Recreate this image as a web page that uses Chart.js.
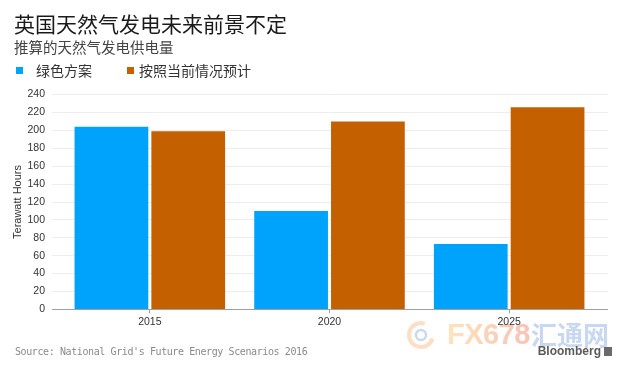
<!DOCTYPE html>
<html>
<head>
<meta charset="utf-8">
<script src="https://cdn.jsdelivr.net/npm/chart.js@4.4.1/dist/chart.umd.min.js"></script>
<style>
  html, body { margin: 0; padding: 0; background: #fff; }
</style>
</head>
<body>
<canvas id="myChart" width="630" height="374"></canvas>
<script>
// data
const years = ['2015', '2020', '2025'];
const greenScenario = [204, 110, 73];
const currentTrend = [199, 210, 226];
const seriesNames = ['绿色方案', '按照当前情况预计'];
const seriesColors = ['#00a3fb', '#c46000'];
const yMin = 0;
const yMax = 240;
const yStep = 20;

const chartTitle = '英国天然气发电未来前景不定';
const chartSubtitle = '推算的天然气发电供电量';
const yAxisTitle = 'Terawatt Hours';
const sourceNote = "Source: National Grid's Future Energy Scenarios 2016";
const brandName = 'Bloomberg';

const cjk = '"Noto Sans CJK SC", "Noto Sans", sans-serif';
const latin = '"Liberation Sans", Arial, sans-serif';

const gridColor = ctx => (ctx.tick && ctx.tick.value === 0 ? '#a0a0a0' : '#ededed');

// legend, source line and logos drawn around the chart
const extras = {
  id: 'extras',
  beforeDraw(chart) {
    const ctx = chart.ctx;
    ctx.save();
    // faded FX678 logo in the lower right
    ctx.lineWidth = 4;
    ctx.strokeStyle = 'rgba(250, 190, 140, 0.5)';
    ctx.beginPath();
    ctx.arc(421, 335, 12, 0.3, Math.PI * 1.6);
    ctx.stroke();
    ctx.strokeStyle = 'rgba(150, 180, 225, 0.5)';
    ctx.lineWidth = 2.5;
    ctx.beginPath();
    ctx.arc(421, 335, 5, 0, Math.PI * 2);
    ctx.stroke();
    const g = ctx.createLinearGradient(448, 0, 526, 0);
    g.addColorStop(0, 'rgba(253, 215, 160, 0.7)');
    g.addColorStop(1, 'rgba(248, 170, 150, 0.7)');
    ctx.fillStyle = g;
    ctx.font = 'bold 29px ' + latin;
    ctx.textBaseline = 'middle';
    ctx.letterSpacing = '-0.5px';
    ctx.fillText('FX678', 447, 336);
    ctx.letterSpacing = '0px';
    ctx.fillStyle = 'rgba(170, 195, 232, 0.65)';
    ctx.font = 'bold 26px ' + cjk;
    ctx.fillText('汇通网', 531, 335);
    ctx.restore();
  },
  afterDraw(chart) {
    const ctx = chart.ctx;
    ctx.save();
    ctx.textBaseline = 'middle';
    // legend
    const boxes = [16, 127];
    const texts = [36, 139];
    chart.data.datasets.forEach((ds, i) => {
      ctx.fillStyle = ds.backgroundColor;
      ctx.fillRect(boxes[i], 67, 7, 7);
      ctx.fillStyle = '#333';
      ctx.font = '14px ' + cjk;
      ctx.fillText(ds.label, texts[i], 70.5);
    });
    // source line
    ctx.fillStyle = '#8a8a8a';
    ctx.font = '10px "DejaVu Sans Mono", monospace';
    ctx.letterSpacing = '-0.4px';
    ctx.fillText(sourceNote, 15, 352);
    ctx.letterSpacing = '0px';
    // brand
    ctx.fillStyle = '#5a5a5a';
    ctx.font = 'bold 12px ' + latin;
    ctx.textAlign = 'right';
    ctx.fillText(brandName, 601, 352);
    ctx.fillStyle = '#6a6a6a';
    ctx.fillRect(604, 347, 8, 9);
    ctx.restore();
  }
};

const ctx = document.getElementById('myChart').getContext('2d');
const myChart = new Chart(ctx, {
  type: 'bar',
  data: {
    labels: years,
    datasets: [
      { label: seriesNames[0], data: greenScenario, backgroundColor: seriesColors[0] },
      { label: seriesNames[1], data: currentTrend, backgroundColor: seriesColors[1] }
    ]
  },
  options: {
    responsive: false,
    devicePixelRatio: 1,
    animation: false,
    categoryPercentage: 0.855,
    barPercentage: 0.96,
    layout: { padding: { left: 14, right: 22, top: 0, bottom: 44 } },
    plugins: {
      legend: { display: false },
      tooltip: { enabled: false },
      title: {
        display: true,
        text: chartTitle,
        align: 'start',
        color: '#1a1a1a',
        font: { family: cjk, size: 21, weight: 'normal', lineHeight: 1.2 },
        padding: { top: 11, bottom: 3 }
      },
      subtitle: {
        display: true,
        text: chartSubtitle,
        align: 'start',
        color: '#444',
        font: { family: cjk, size: 14.5, weight: 'normal', lineHeight: 1.2 },
        padding: { top: 0, bottom: 38 }
      }
    },
    scales: {
      x: {
        grid: { drawOnChartArea: false, offset: false, tickLength: 4, color: '#a0a0a0' },
        border: { display: false },
        ticks: { color: '#333', font: { family: latin, size: 10.5 }, padding: 2 }
      },
      y: {
        min: yMin,
        max: yMax,
        ticks: { stepSize: yStep, color: '#333', font: { family: latin, size: 10.5 }, padding: 7 },
        grid: { color: gridColor, tickLength: 8 },
        border: { display: false },
        title: {
          display: true,
          text: yAxisTitle,
          color: '#333',
          font: { family: latin, size: 11 },
          padding: { top: -3, bottom: 0 }
        },
        afterFit: s => { s.width = 46; }
      },
      yRight: {
        position: 'right',
        min: yMin,
        max: yMax,
        ticks: { stepSize: yStep, display: false },
        grid: { drawOnChartArea: false, color: gridColor, tickLength: 9 },
        border: { display: false },
        afterFit: s => { s.width = 9; }
      }
    }
  },
  plugins: [extras]
});
</script>
</body>
</html>
